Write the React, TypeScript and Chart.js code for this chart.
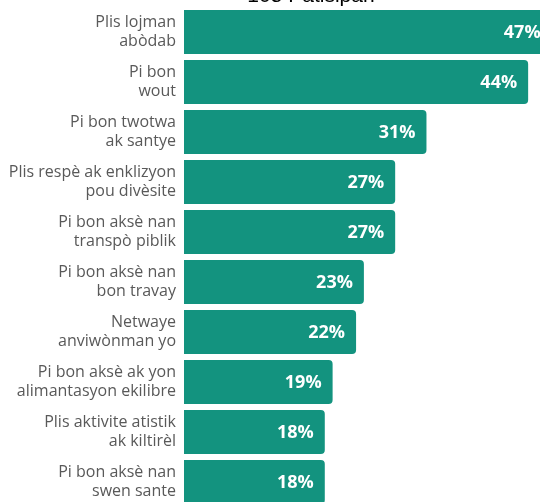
import React, { useEffect, useRef } from "react";
import { Chart, registerables } from "chart.js";

Chart.register(...registerables);

const titleText = "105 Patisipan";
const categories: string[][] = [
  ["Plis lojman", "abòdab"],
  ["Pi bon", "wout"],
  ["Pi bon twotwa", "ak santye"],
  ["Plis respè ak enklizyon", "pou divèsite"],
  ["Pi bon aksè nan", "transpò piblik"],
  ["Pi bon aksè nan", "bon travay"],
  ["Netwaye", "anviwònman yo"],
  ["Pi bon aksè ak yon", "alimantasyon ekilibre"],
  ["Plis aktivite atistik", "ak kiltirèl"],
  ["Pi bon aksè nan", "swen sante"],
];
const percentValues: number[] = [47, 44, 31, 27, 27, 23, 22, 19, 18, 18];

const BAR_COLOR = "#13937f";

const valueLabelPlugin = {
  id: "valueLabels",
  afterDatasetsDraw(chart: any) {
    const ctx = chart.ctx;
    const meta = chart.getDatasetMeta(0);
    ctx.save();
    ctx.font = "bold 18px 'Open Sans'";
    ctx.fillStyle = "#ffffff";
    ctx.textAlign = "right";
    ctx.textBaseline = "middle";
    meta.data.forEach((bar: any, i: number) => {
      ctx.fillText(`${percentValues[i]}%`, bar.x - 11, bar.y + 1);
    });
    ctx.restore();
  },
};

export default function App() {
  const canvasRef = useRef<HTMLCanvasElement | null>(null);

  useEffect(() => {
    if (!canvasRef.current) return;
    const chart = new Chart(canvasRef.current, {
      type: "bar",
      data: {
        labels: categories,
        datasets: [
          {
            data: percentValues,
            backgroundColor: BAR_COLOR,
            borderRadius: 4,
            borderSkipped: "start",
            barPercentage: 0.88,
            categoryPercentage: 1,
          },
        ],
      },
      options: {
        indexAxis: "y",
        animation: false,
        responsive: true,
        maintainAspectRatio: false,
        layout: { padding: { bottom: 1, right: 0, left: 0, top: 0 } },
        plugins: {
          legend: { display: false },
          tooltip: { enabled: false },
          title: {
            display: true,
            text: titleText,
            color: "#000000",
            font: { family: "'Liberation Sans'", size: 21, weight: "normal", lineHeight: 1 },
            padding: { top: 10, bottom: 0 },
          },
        },
        scales: {
          x: {
            display: false,
            min: 0,
            max: 56,
          },
          y: {
            grid: { display: false, drawTicks: false },
            border: { display: false },
            ticks: {
              color: "#595959",
              font: { family: "'Open Sans'", size: 16, lineHeight: 1.22 },
              padding: 8,
              autoSkip: false,
            },
            afterFit(scale: any) {
              scale.width = 184;
              scale.paddingTop = 0;
              scale.paddingBottom = 0;
            },
          },
        },
      },
      plugins: [valueLabelPlugin],
    });
    return () => chart.destroy();
  }, []);

  return (
    <div
      style={{
        position: "fixed",
        left: 0,
        top: 0,
        width: 540,
        height: 502,
        overflow: "hidden",
        background: "#ffffff",
      }}
    >
      <div style={{ position: "absolute", left: 0, top: -24, width: 622, height: 532 }}>
        <canvas ref={canvasRef} />
      </div>
    </div>
  );
}
